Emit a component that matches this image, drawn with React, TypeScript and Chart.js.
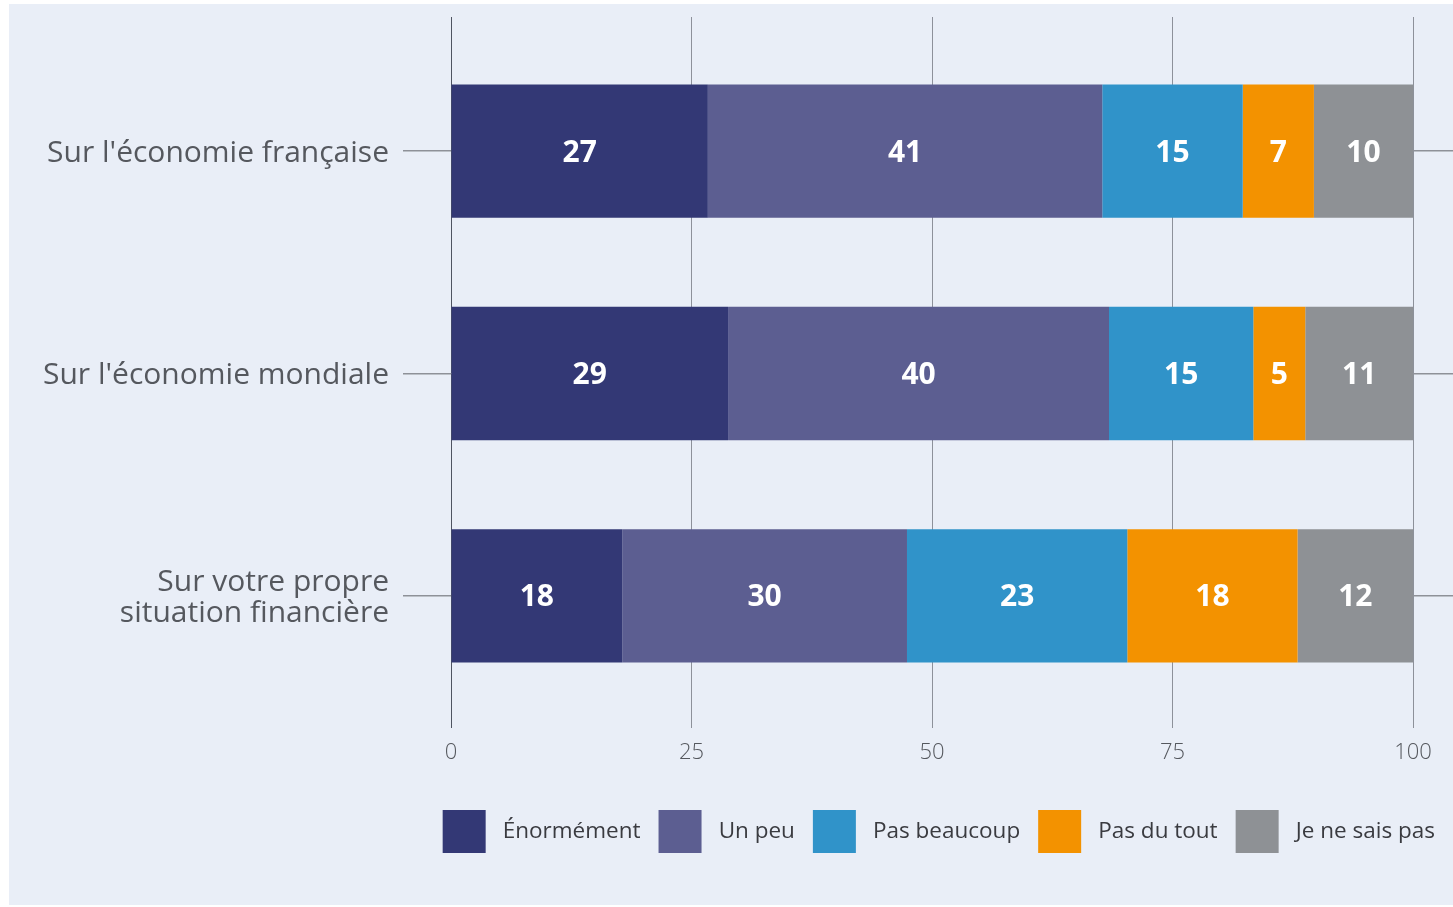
import React, { useEffect, useRef } from "react";
import { Chart, registerables } from "chart.js";

Chart.register(...registerables);

const categories: (string | string[])[] = [
  "Sur l'économie française",
  "Sur l'économie mondiale",
  ["Sur votre propre", "situation financière"],
];

const seriesNames = ["Énormément", "Un peu", "Pas beaucoup", "Pas du tout", "Je ne sais pas"];
const enormement = [26.7, 28.8, 17.8];
const unPeu = [41.0, 39.6, 29.6];
const pasBeaucoup = [14.6, 15.0, 22.9];
const pasDuTout = [7.4, 5.4, 17.7];
const neSaisPas = [10.3, 11.2, 12.0];
const seriesColors = ["#333875", "#5c5e91", "#3093c9", "#f39200", "#8e9195"];
const xTicks = [0, 25, 50, 75, 100];

const FONT = "'Open Sans', 'Noto Sans', sans-serif";

const valueLabels = {
  id: "valueLabels",
  afterDatasetsDraw(chart: any) {
    const ctx = chart.ctx;
    ctx.save();
    ctx.fillStyle = "#ffffff";
    ctx.font = `700 30px ${FONT}`;
    ctx.textAlign = "center";
    ctx.textBaseline = "middle";
    chart.data.datasets.forEach((ds: any, di: number) => {
      const meta = chart.getDatasetMeta(di);
      meta.data.forEach((bar: any, i: number) => {
        const v = ds.data[i];
        const cx = (bar.x + bar.base) / 2;
        ctx.fillText(String(Math.round(v)), cx, bar.y + 2);
      });
    });
    ctx.restore();
  },
};

export default function App() {
  const ref = useRef<HTMLCanvasElement>(null);
  useEffect(() => {
    if (!ref.current) return;
    const seriesData = [enormement, unPeu, pasBeaucoup, pasDuTout, neSaisPas];
    const gridColor = (c: any) => (c.tick && c.tick.value === 0 ? "#4f5461" : "#8d919a");
    const chart = new Chart(ref.current, {
      type: "bar",
      data: {
        labels: categories as any,
        datasets: seriesNames.map((name, i) => ({
          label: name,
          data: seriesData[i],
          backgroundColor: seriesColors[i],
          borderWidth: 0,
          barPercentage: 0.6,
          categoryPercentage: 1.0,
        })),
      },
      options: {
        indexAxis: "y",
        animation: false,
        responsive: true,
        maintainAspectRatio: false,
        layout: { padding: { top: 13, bottom: 42, left: 0, right: 0 } },
        scales: {
          x: {
            type: "linear",
            stacked: true,
            min: 0,
            max: 100,
            position: "bottom",
            afterBuildTicks: (s: any) => {
              s.ticks = xTicks.map((v) => ({ value: v }));
            },
            afterFit: (s: any) => {
              s.height = 85;
              s.paddingLeft = 0;
              s.paddingRight = 0;
            },
            grid: { color: gridColor, lineWidth: 1, tickLength: 21, drawOnChartArea: true },
            border: { display: false },
            ticks: {
              color: "#55585e",
              padding: 12,
              font: { family: FONT, size: 22, weight: "300" as any },
            },
          },
          x2: {
            type: "linear",
            position: "top",
            min: 0,
            max: 100,
            afterBuildTicks: (s: any) => {
              s.ticks = xTicks.map((v) => ({ value: v }));
            },
            afterFit: (s: any) => {
              s.paddingLeft = 0;
              s.paddingRight = 0;
            },
            grid: { color: gridColor, lineWidth: 1, tickLength: 23, drawOnChartArea: false },
            border: { display: false },
            ticks: { display: false },
          },
          y: {
            type: "category",
            stacked: true,
            position: "left",
            offset: true,
            afterFit: (s: any) => {
              s.width = 442;
              s.paddingTop = 0;
              s.paddingBottom = 0;
            },
            grid: { offset: false, color: "#8e9198", lineWidth: 1.5, tickLength: 48, drawOnChartArea: false },
            border: { display: false },
            ticks: {
              color: "#55585e",
              padding: 14,
              labelOffset: 2,
              font: { family: FONT, size: 30, lineHeight: 1.04 },
            },
          },
          y2: {
            type: "category",
            position: "right",
            offset: true,
            afterFit: (s: any) => {
              s.paddingTop = 0;
              s.paddingBottom = 0;
            },
            grid: { offset: false, color: "#8e9198", lineWidth: 1.5, tickLength: 40, drawOnChartArea: false },
            border: { display: false },
            ticks: { display: false },
          },
        },
        plugins: {
          legend: {
            position: "bottom",
            align: "end",
            labels: {
              boxWidth: 43,
              boxHeight: 43,
              padding: 18,
              color: "#3a3b40",
              font: { family: FONT, size: 22.5 },
              generateLabels: (ch: any) => {
                const items = Chart.defaults.plugins.legend.labels.generateLabels(ch);
                return items.map((it: any) => ({ ...it, text: " " + it.text, lineWidth: 0 }));
              },
            },
          },
          tooltip: { enabled: false },
        },
      },
      plugins: [valueLabels],
    });
    return () => chart.destroy();
  }, []);

  return (
    <div
      style={{
        position: "absolute",
        left: 9,
        top: 4,
        width: 1444,
        height: 901,
        background: "#e9eef7",
      }}
    >
      <canvas ref={ref} />
    </div>
  );
}
